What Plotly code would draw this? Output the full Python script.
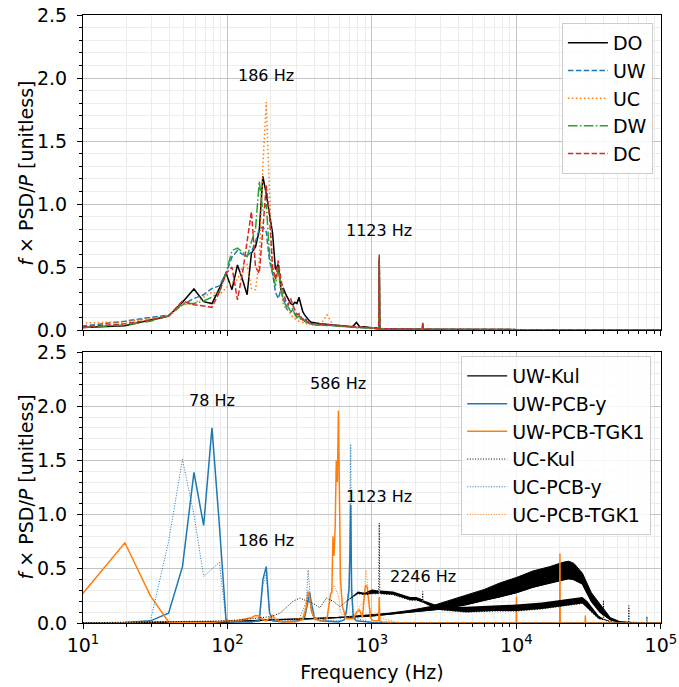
import math
import plotly.graph_objects as go

# ---------------- top panel data ----------------
top_freq = [9.8, 19.5, 29.3, 39.1, 48.8, 58.6, 68.4, 78.1, 87.9, 97.7,
            107.4, 117.2, 127.0, 136.7, 146.5, 156.3, 166.0, 175.8, 185.5, 195.3,
            205.1, 214.8, 224.6, 234.4, 244.1, 253.9, 263.7, 273.4, 283.2, 293.0,
            302.7, 312.5, 322.3, 332.0, 341.8, 351.6, 361.3, 371.1, 380.9, 390.6,
            439.5, 488.3, 537.1, 586.0, 634.8, 683.6, 732.4, 781.3, 830.1, 878.9,
            927.7, 976.6, 1025.4, 1074.2, 1113.3, 1123.0, 1132.8, 1171.9, 1269.5, 1464.8,
            1757.8, 1953.1, 2236.3, 2246.1, 2255.9, 2500.0, 3000.0, 4000.0, 6000.0, 10000.0,
            20000.0, 50000.0, 100000.0]

do_vals = [0.02, 0.034, 0.079, 0.111, 0.22, 0.325, 0.225, 0.21, 0.33, 0.455,
           0.32, 0.516, 0.40, 0.28, 0.61, 0.66, 0.79, 1.22, 1.08, 0.90,
           0.77, 0.48, 0.52, 0.32, 0.33, 0.28, 0.24, 0.21, 0.20, 0.22,
           0.21, 0.26, 0.20, 0.145, 0.12, 0.10, 0.09, 0.07, 0.06, 0.06,
           0.05, 0.045, 0.04, 0.035, 0.03, 0.03, 0.025, 0.06, 0.02, 0.025,
           0.02, 0.02, 0.015, 0.015, 0.01, 0.55, 0.01, 0.01, 0.01, 0.008,
           0.007, 0.006, 0.006, 0.05, 0.006, 0.005, 0.004, 0.004, 0.003, 0.003,
           0.003, 0.002, 0.002]
uw_vals = [0.03, 0.07, 0.10, 0.117, 0.20, 0.25, 0.28, 0.33, 0.35, 0.45,
           0.58, 0.63, 0.60, 0.59, 0.62, 0.70, 0.80, 0.82, 0.78, 0.55,
           0.45, 0.30, 0.25, 0.32, 0.25, 0.18, 0.15, 0.14, 0.16, 0.13,
           0.10, 0.12, 0.09, 0.08, 0.07, 0.09, 0.06, 0.05, 0.05, 0.04,
           0.04, 0.04, 0.035, 0.03, 0.03, 0.025, 0.025, 0.02, 0.02, 0.02,
           0.015, 0.015, 0.015, 0.01, 0.01, 0.56, 0.01, 0.01, 0.008, 0.007,
           0.006, 0.006, 0.005, 0.05, 0.005, 0.005, 0.004, 0.003, 0.003, 0.003,
           0.002, 0.002, 0.002]
uc_vals = [0.055, 0.065, 0.09, 0.11, 0.20, 0.21, 0.26, 0.30, 0.28, 0.33,
           0.38, 0.40, 0.50, 0.52, 0.33, 0.32, 0.55, 1.30, 1.81, 1.10,
           0.50, 0.40, 0.45, 0.30, 0.20, 0.17, 0.15, 0.13, 0.10, 0.09,
           0.08, 0.07, 0.09, 0.06, 0.06, 0.05, 0.06, 0.05, 0.04, 0.05,
           0.04, 0.12, 0.04, 0.03, 0.03, 0.025, 0.02, 0.02, 0.02, 0.02,
           0.015, 0.015, 0.015, 0.01, 0.01, 0.57, 0.01, 0.01, 0.01, 0.008,
           0.007, 0.006, 0.006, 0.05, 0.006, 0.005, 0.004, 0.004, 0.003, 0.003,
           0.003, 0.002, 0.002]
dw_vals = [0.02, 0.04, 0.07, 0.11, 0.21, 0.21, 0.23, 0.26, 0.30, 0.45,
           0.63, 0.65, 0.62, 0.58, 0.70, 0.80, 1.18, 0.95, 1.00, 0.60,
           0.45, 0.35, 0.50, 0.35, 0.22, 0.20, 0.18, 0.15, 0.17, 0.12,
           0.10, 0.11, 0.08, 0.09, 0.07, 0.06, 0.06, 0.05, 0.05, 0.04,
           0.04, 0.04, 0.035, 0.03, 0.03, 0.025, 0.025, 0.02, 0.02, 0.02,
           0.015, 0.015, 0.015, 0.01, 0.01, 0.58, 0.01, 0.01, 0.008, 0.007,
           0.006, 0.006, 0.005, 0.055, 0.005, 0.005, 0.004, 0.003, 0.003, 0.003,
           0.002, 0.002, 0.002]
dc_vals = [0.025, 0.05, 0.08, 0.11, 0.23, 0.20, 0.19, 0.18, 0.30, 0.45,
           0.50, 0.24, 0.45, 0.70, 0.94, 0.50, 0.45, 0.80, 1.15, 0.90,
           0.50, 0.40, 0.55, 0.40, 0.30, 0.22, 0.20, 0.25, 0.20, 0.15,
           0.12, 0.13, 0.10, 0.08, 0.09, 0.07, 0.06, 0.07, 0.05, 0.05,
           0.045, 0.045, 0.04, 0.035, 0.03, 0.03, 0.025, 0.025, 0.02, 0.02,
           0.02, 0.015, 0.015, 0.01, 0.01, 0.60, 0.01, 0.01, 0.01, 0.008,
           0.007, 0.006, 0.006, 0.06, 0.006, 0.005, 0.004, 0.004, 0.003, 0.003,
           0.003, 0.002, 0.002]

# ---------------- bottom panel data ----------------
tgk_uw_freq = [9.8, 19.5, 29.3, 39.1, 48.8, 58.6, 78.1, 97.7, 117.2, 146.5,
               156.3, 166.0, 175.8, 185.5, 195.3, 205.1, 214.8, 244.1, 293.0, 332.0,
               351.6, 361.3, 371.1, 380.9, 400.4, 439.5, 488.3, 517.6, 527.3, 537.1,
               546.9, 556.6, 566.4, 576.2, 586.0, 595.7, 605.5, 625.0, 664.1, 742.2,
               781.3, 820.3, 859.4, 888.7, 908.2, 927.7, 947.3, 976.6, 1015.6, 1103.5,
               1113.3, 1123.0, 1132.8, 1171.9, 1500.0, 3000.0, 9960.0, 10000.0, 10040.0, 19920.0,
               20000.0, 20080.0, 29880.0, 30000.0, 30120.0, 100000.0]
tgk_uw_vals = [0.26, 0.74, 0.25, 0.01, 0.005, 0.005, 0.005, 0.02, 0.02, 0.05,
               0.07, 0.065, 0.03, 0.02, 0.05, 0.07, 0.03, 0.01, 0.01, 0.03,
               0.15, 0.29, 0.25, 0.12, 0.04, 0.02, 0.04, 0.27, 0.28, 0.80,
               0.62, 0.90, 1.50, 1.30, 1.96, 0.90, 0.40, 0.15, 0.04, 0.04,
               0.10, 0.12, 0.05, 0.28, 0.35, 0.33, 0.20, 0.05, 0.02, 0.02,
               0.02, 0.24, 0.02, 0.01, 0.003, 0.002, 0.001, 0.24, 0.001, 0.001,
               0.64, 0.001, 0.001, 0.07, 0.001, 0.001]

pcby_uw_freq = [9.8, 19.5, 29.3, 39.1, 48.8, 58.6, 68.4, 78.1, 87.9, 97.7,
                107.4, 146.5, 166.0, 175.8, 185.5, 195.3, 205.1, 244.1, 312.5, 341.8,
                361.3, 371.1, 380.9, 400.4, 439.5, 586.0, 644.5, 664.1, 683.6, 693.4,
                703.1, 712.9, 722.7, 742.2, 781.3, 1000.0, 1500.0, 100000.0]
pcby_uw_vals = [0.003, 0.005, 0.02, 0.09, 0.52, 1.39, 0.90, 1.80, 0.90, 0.03,
                0.01, 0.01, 0.02, 0.40, 0.52, 0.10, 0.02, 0.01, 0.02, 0.05,
                0.20, 0.28, 0.18, 0.05, 0.02, 0.01, 0.03, 0.10, 0.25, 0.30,
                0.60, 1.09, 0.30, 0.05, 0.02, 0.005, 0.002, 0.001]

pcby_uc_freq = [9.8, 19.5, 29.3, 39.1, 48.8, 58.6, 68.4, 78.1, 87.9, 97.7,
                107.4, 166.0, 175.8, 185.5, 195.3, 205.1, 312.5, 351.6, 361.3, 371.1,
                380.9, 400.4, 586.0, 664.1, 683.6, 693.4, 703.1, 712.9, 722.7, 742.2,
                1000.0, 100000.0]
pcby_uc_vals = [0.003, 0.005, 0.02, 0.75, 1.51, 1.00, 0.43, 0.50, 0.56, 0.02,
                0.01, 0.02, 0.35, 0.45, 0.10, 0.02, 0.03, 0.20, 0.49, 0.30,
                0.10, 0.03, 0.02, 0.10, 0.30, 0.35, 0.90, 1.65, 0.40, 0.05,
                0.005, 0.001]

tgk_uc_freq = [9.8, 97.7, 146.5, 166.0, 185.5, 205.1, 244.1, 332.0, 351.6, 361.3,
               371.1, 380.9, 400.4, 488.3, 527.3, 546.9, 566.4, 586.0, 605.5, 644.5,
               781.3, 820.3, 878.9, 898.4, 908.2, 918.0, 937.5, 976.6, 1123.0, 1500.0,
               100000.0]
tgk_uc_vals = [0.002, 0.01, 0.04, 0.06, 0.03, 0.06, 0.01, 0.05, 0.20, 0.25,
               0.22, 0.10, 0.04, 0.05, 0.30, 0.35, 0.30, 0.25, 0.10, 0.04,
               0.08, 0.15, 0.20, 0.40, 0.49, 0.45, 0.30, 0.10, 0.05, 0.005,
               0.001]

kul_uw_freq = [10, 50, 100, 150, 200, 300, 400, 500, 700, 1000,
               1300, 1800, 2500, 3100, 4500, 6000, 7700, 10000, 13000, 17000,
               21000, 23000, 25000, 28600, 33000, 37900, 44600, 52000, 60000, 100000]
kul_uw_lo = [0.002, 0.004, 0.01, 0.02, 0.03, 0.035, 0.04, 0.045, 0.055, 0.065,
             0.08, 0.10, 0.12, 0.13, 0.17, 0.21, 0.24, 0.28, 0.33, 0.37,
             0.40, 0.41, 0.40, 0.36, 0.20, 0.10, 0.03, 0.008, 0.003, 0.001]
kul_uw_hi = [0.002, 0.004, 0.01, 0.02, 0.03, 0.035, 0.04, 0.045, 0.06, 0.075,
             0.09, 0.115, 0.15, 0.19, 0.26, 0.31, 0.37, 0.42, 0.48, 0.52,
             0.56, 0.57, 0.55, 0.46, 0.28, 0.17, 0.05, 0.012, 0.004, 0.001]

kul_uc_freq = [10, 100, 150, 200, 231, 284, 316, 392, 436, 484,
               539, 600, 665, 800, 890, 1000, 1113, 1123, 1133, 1400,
               1840, 2030, 2236, 2246, 2256, 2500, 3000, 4500, 7000, 10000,
               15000, 22000, 28600, 31000, 33000, 37000, 39800, 40000, 40200, 42000,
               45000, 50000, 59700, 60000, 60300, 79600, 80000, 80400, 100000]
kul_uc_lo = [0.002, 0.02, 0.04, 0.06, 0.09, 0.20, 0.23, 0.18, 0.14, 0.23,
             0.20, 0.15, 0.20, 0.27, 0.26, 0.27, 0.27, 0.92, 0.27, 0.26,
             0.21, 0.21, 0.19, 0.29, 0.19, 0.16, 0.12, 0.10, 0.11, 0.11,
             0.13, 0.16, 0.18, 0.14, 0.10, 0.04, 0.03, 0.21, 0.03, 0.02,
             0.01, 0.005, 0.003, 0.16, 0.003, 0.002, 0.06, 0.002, 0.001]
kul_uc_hi = [0.002, 0.02, 0.04, 0.06, 0.09, 0.20, 0.23, 0.18, 0.14, 0.23,
             0.20, 0.15, 0.20, 0.29, 0.28, 0.31, 0.30, 0.92, 0.30, 0.29,
             0.24, 0.24, 0.22, 0.29, 0.21, 0.19, 0.15, 0.15, 0.16, 0.17,
             0.19, 0.22, 0.24, 0.20, 0.15, 0.07, 0.04, 0.21, 0.04, 0.03,
             0.015, 0.006, 0.004, 0.16, 0.004, 0.003, 0.06, 0.002, 0.001]

annot_top = [(186, 2.02, "186 Hz"), (1123, 0.79, "1123 Hz")]
annot_bot = [(78, 2.05, "78 Hz"), (586, 2.21, "586 Hz"), (186, 0.76, "186 Hz"),
             (1123, 1.17, "1123 Hz"), (2246, 0.43, "2246 Hz")]

x_tick_vals = [10, 100, 1000, 10000, 100000]
x_tick_text = ["10<sup>1</sup>", "10<sup>2</sup>", "10<sup>3</sup>", "10<sup>4</sup>", "10<sup>5</sup>"]
x_minor_vals = [m * d for d in (10, 100, 1000, 10000) for m in range(2, 10)]
y_title = "<i>f</i> × PSD/<i>P</i> [unitless]"

BLUE, ORANGE, GREEN, RED, BLACK = "#1f77b4", "#ff7f0e", "#2ca02c", "#d62728", "black"
FONT = "DejaVu Sans"
DASH = "5.5px,2.4px"
DOT = "1.5px,2.5px"
DASHDOT = "9.6px,2.4px,1.5px,2.4px"
FINEDOT = "1px,1.65px"

fig = go.Figure()

top_series = [("DO", do_vals, BLACK, "solid"), ("UW", uw_vals, BLUE, DASH),
              ("UC", uc_vals, ORANGE, DOT), ("DW", dw_vals, GREEN, DASHDOT),
              ("DC", dc_vals, RED, DASH)]
for name, vals, col, dash in top_series:
    fig.add_trace(go.Scatter(x=top_freq, y=vals, mode="lines", name=name,
                             line=dict(color=col, dash=dash, width=1.5),
                             xaxis="x", yaxis="y", legend="legend"))


def band(freq, lo, hi, width):
    return go.Scatter(x=list(freq) + list(freq)[::-1], y=list(hi) + list(lo)[::-1],
                      mode="lines", fill="toself", fillcolor="black",
                      line=dict(color="black", width=width), showlegend=False,
                      hoverinfo="skip", xaxis="x2", yaxis="y2")


# bottom
fig.add_trace(band(kul_uw_freq, kul_uw_lo, kul_uw_hi, 1.0))
fig.add_trace(go.Scatter(x=kul_uw_freq, y=kul_uw_lo, mode="lines", name="UW-Kul",
                         line=dict(color=BLACK, width=1.3), xaxis="x2", yaxis="y2",
                         legend="legend2"))
fig.add_trace(go.Scatter(x=pcby_uw_freq, y=pcby_uw_vals, mode="lines", name="UW-PCB-y",
                         line=dict(color=BLUE, width=1.5), xaxis="x2", yaxis="y2",
                         legend="legend2"))
fig.add_trace(go.Scatter(x=tgk_uw_freq, y=tgk_uw_vals, mode="lines", name="UW-PCB-TGK1",
                         line=dict(color=ORANGE, width=1.5), xaxis="x2", yaxis="y2",
                         legend="legend2"))
fig.add_trace(band(kul_uc_freq, kul_uc_lo, kul_uc_hi, 0))
fig.add_trace(go.Scatter(x=kul_uc_freq, y=kul_uc_lo, mode="lines", name="UC-Kul",
                         line=dict(color=BLACK, width=1.0, dash=FINEDOT), xaxis="x2", yaxis="y2",
                         legend="legend2"))
fig.add_trace(go.Scatter(x=pcby_uc_freq, y=pcby_uc_vals, mode="lines", name="UC-PCB-y",
                         line=dict(color=BLUE, width=1.0, dash=FINEDOT), xaxis="x2", yaxis="y2",
                         legend="legend2"))
fig.add_trace(go.Scatter(x=tgk_uc_freq, y=tgk_uc_vals, mode="lines", name="UC-PCB-TGK1",
                         line=dict(color=ORANGE, width=1.0, dash=FINEDOT), xaxis="x2", yaxis="y2",
                         legend="legend2"))

annotations = []
for x, y, t in annot_top:
    annotations.append(dict(x=math.log10(x), y=y, text=t, xref="x", yref="y", showarrow=False,
                            font=dict(size=16, family=FONT, color="black")))
for x, y, t in annot_bot:
    annotations.append(dict(x=math.log10(x), y=y, text=t, xref="x2", yref="y2", showarrow=False,
                            font=dict(size=16, family=FONT, color="black")))
# y-axis titles
for ypos in (0.739, 0.223):
    annotations.append(dict(x=-0.0986, y=ypos, xref="paper", yref="paper", text=y_title,
                            textangle=-90, showarrow=False, xanchor="center", yanchor="middle",
                            font=dict(size=19, family=FONT, color="black")))


def xax(show_labels, anchor):
    return dict(type="log", range=[1, 5.0005], tickmode="array", tickvals=x_tick_vals,
                ticktext=x_tick_text, anchor=anchor, domain=[0, 1], automargin=False,
                showticklabels=show_labels,
                ticks="outside", ticklen=5, tickwidth=1, tickcolor="black",
                showline=True, linecolor="black", linewidth=1, mirror=True,
                showgrid=True, gridcolor="#c4c4c4", gridwidth=1, zeroline=False,
                tickfont=dict(size=19, family=FONT, color="black"),
                minor=dict(tickmode="array", tickvals=x_minor_vals, ticks="outside",
                           ticklen=3, tickcolor="black", showgrid=True,
                           gridcolor="#ececec", gridwidth=1))


def yax(domain, anchor):
    return dict(range=[0, 2.5], dtick=0.5, tickformat=".1f", domain=domain, anchor=anchor,
                automargin=False, ticklabelstandoff=6,
                ticks="outside", ticklen=5, tickwidth=1, tickcolor="black",
                showline=True, linecolor="black", linewidth=1, mirror=True,
                showgrid=True, gridcolor="#c4c4c4", gridwidth=1, zeroline=False,
                tickfont=dict(size=19, family=FONT, color="black"),
                minor=dict(dtick=0.1, ticks="outside", ticklen=3, tickcolor="black",
                           showgrid=True, gridcolor="#ececec", gridwidth=1))


xa2 = xax(True, "y2")
xa2["title"] = dict(text="Frequency (Hz)", standoff=10,
                    font=dict(size=19, family=FONT, color="black"))

legend_style = dict(bgcolor="rgba(255,255,255,0.85)", bordercolor="#cccccc", borderwidth=1,
                    font=dict(size=19, family=FONT, color="black"), xanchor="right",
                    yanchor="top", tracegroupgap=0, traceorder="normal", itemwidth=40)

fig.update_layout(
    width=679, height=687,
    margin=dict(l=83, r=18, t=15, b=64),
    paper_bgcolor="white", plot_bgcolor="white",
    font=dict(family=FONT, color="black"),
    xaxis=xax(False, "y"),
    yaxis=yax([0.4819, 1.0], "x"),
    xaxis2=xa2,
    yaxis2=yax([0.0, 0.4457], "x2"),
    legend=dict(x=0.986, y=0.987, **legend_style),
    legend2=dict(x=0.983, y=0.439, **legend_style),
    annotations=annotations,
)

fig.write_html("out.html", post_script="document.body.style.margin='0';",
               config={"displayModeBar": False})
